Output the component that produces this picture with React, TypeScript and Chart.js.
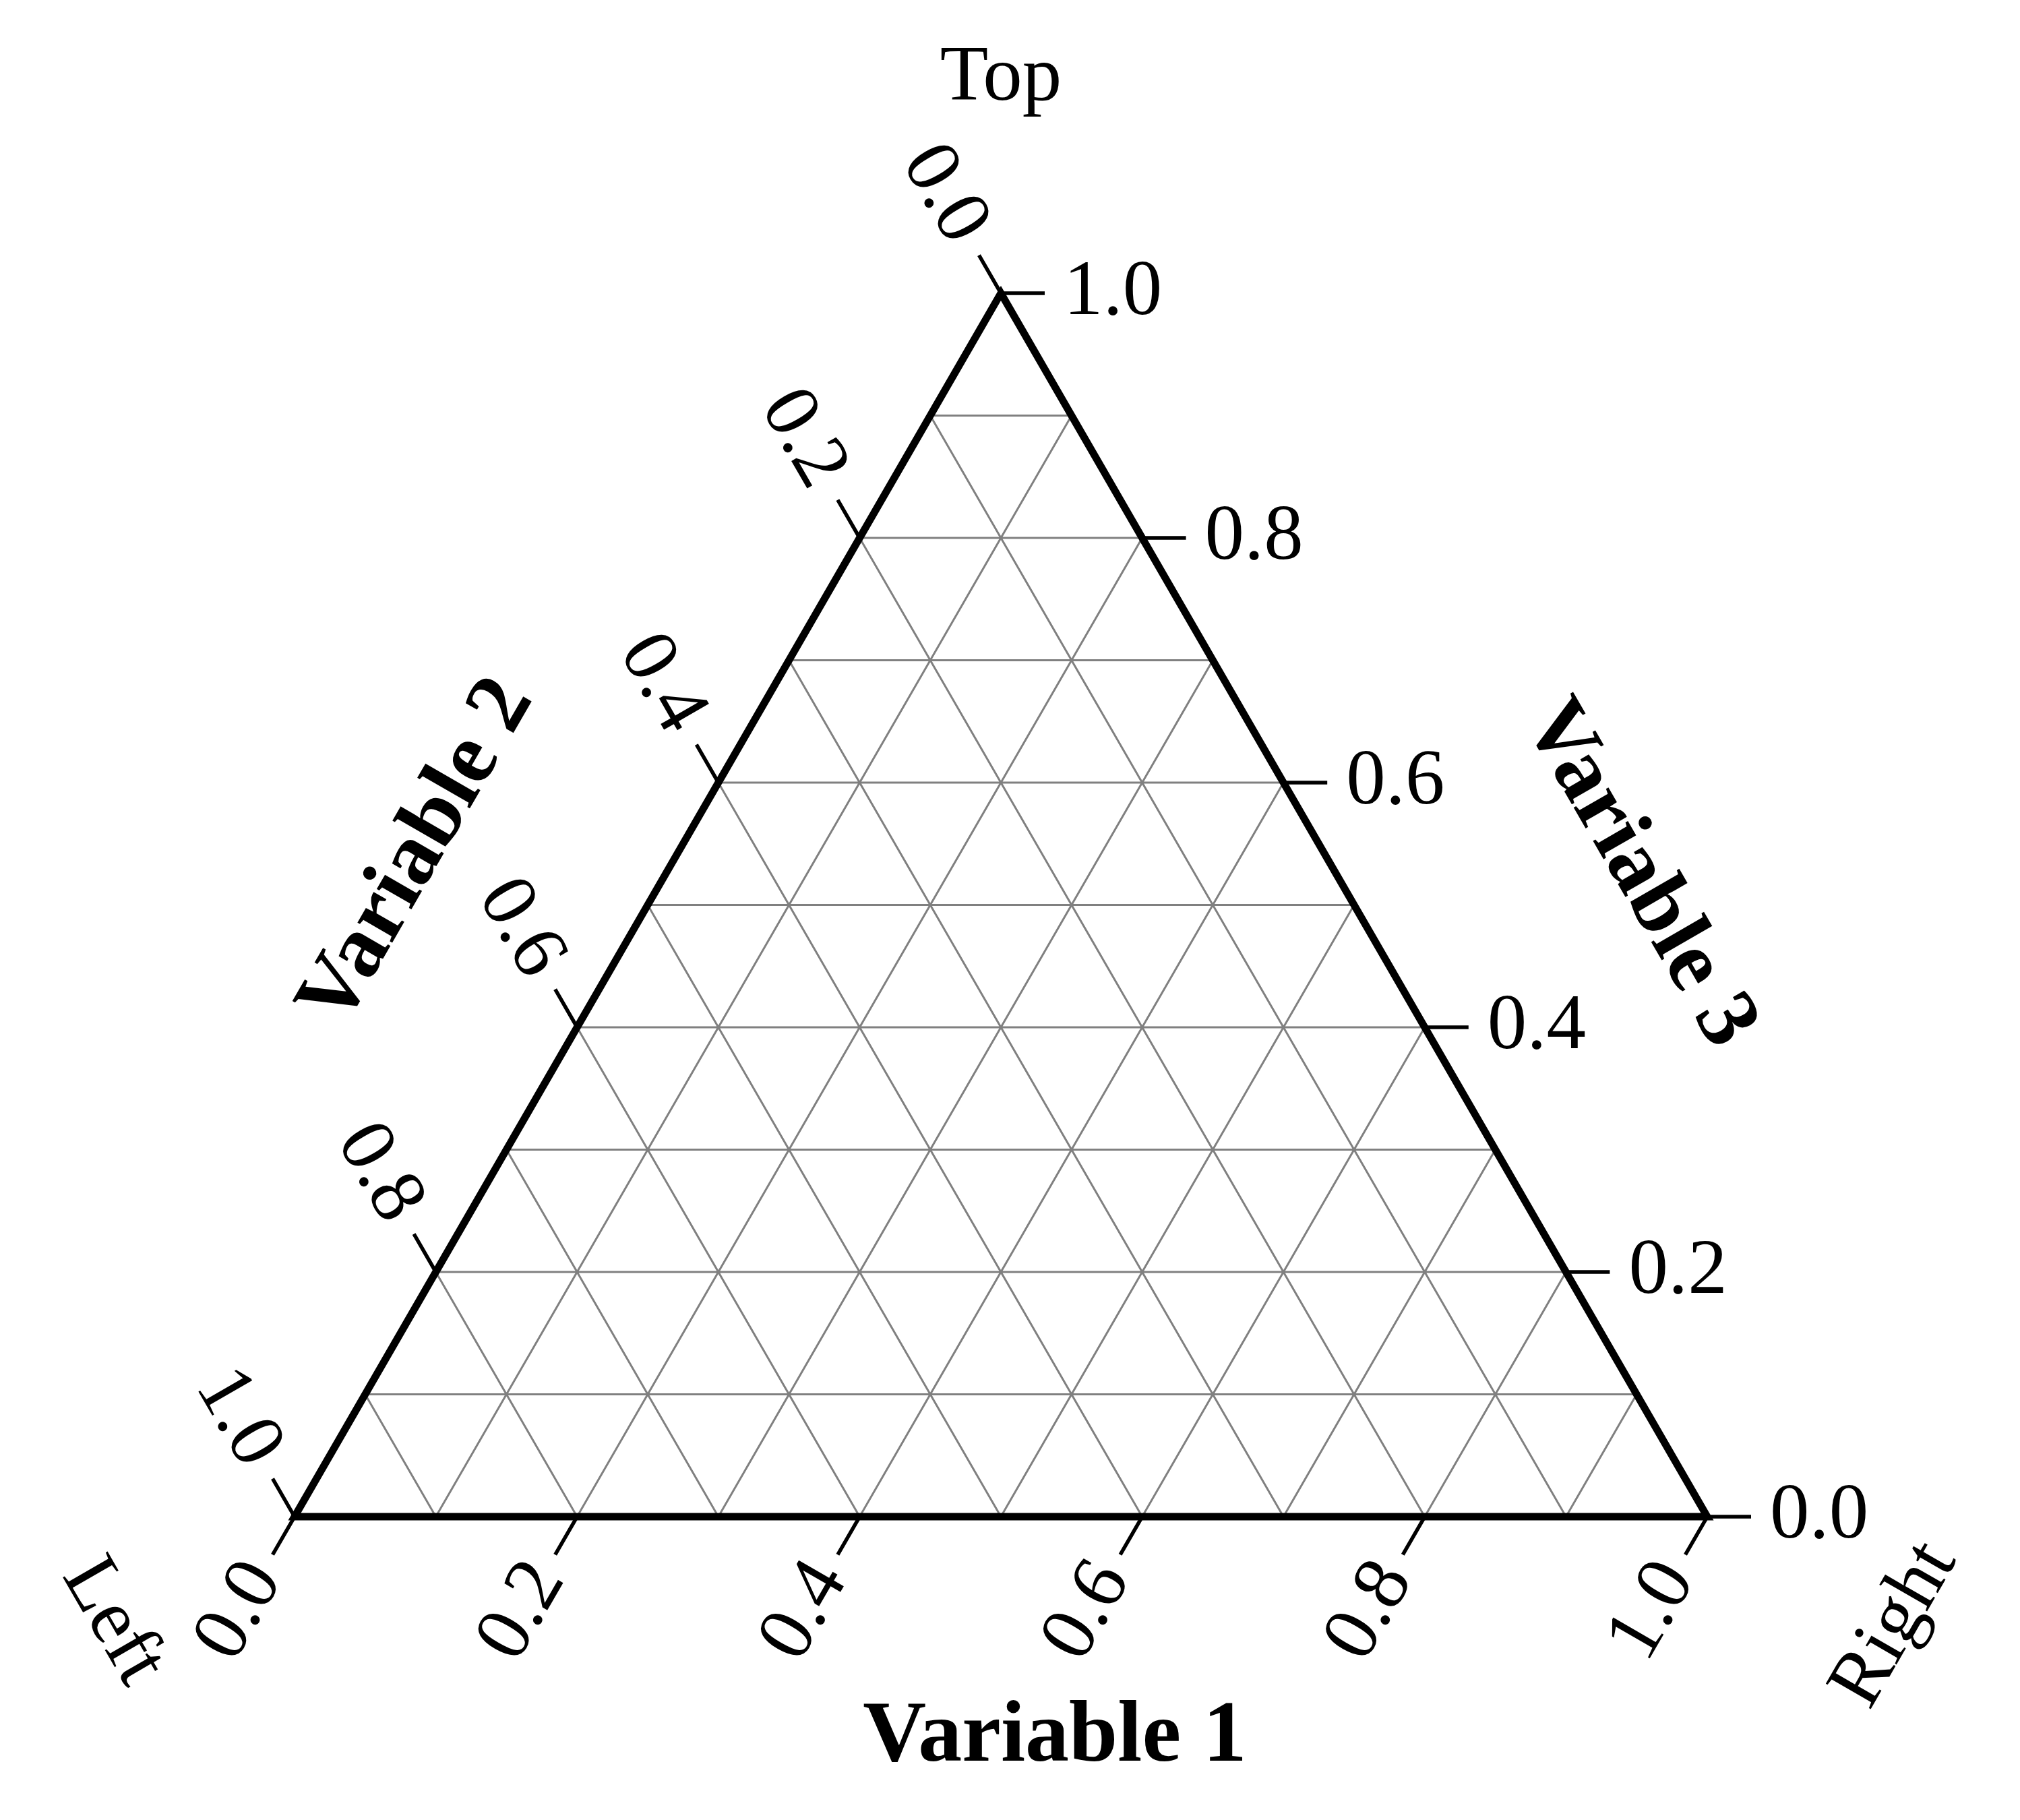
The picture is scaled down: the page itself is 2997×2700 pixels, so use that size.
import React, { useEffect, useRef } from 'react';
import { Chart, registerables } from 'chart.js';

Chart.register(...registerables);

// ---- data ----
const gridValues = [0.1, 0.2, 0.3, 0.4, 0.5, 0.6, 0.7, 0.8, 0.9];
const tickValues = [0.0, 0.2, 0.4, 0.6, 0.8, 1.0];
const tickLabels = ['0.0', '0.2', '0.4', '0.6', '0.8', '1.0'];
const cornerLabels = ['Top', 'Left', 'Right'];
const axisTitles = ['Variable 1', 'Variable 2', 'Variable 3'];

// ---- layout / style ----
const W = 2997;
const H = 2700;
const PAD = { left: 437, right: 464, top: 435, bottom: 450 };
const PLOT_W = W - PAD.left - PAD.right;
const SQ = Math.sqrt(3) / 2;
const TICK_PX = 65;
const LABEL_PAD = 31;
const SERIF = "'Liberation Serif', 'Times New Roman', Times, serif";
const TICK_FONT = `117px ${SERIF}`;
const TITLE_FONT = `bold 130px ${SERIF}`;

// barycentric (v1 bottom, v2 left, v3 right) -> cartesian data coords
const toXY = (v1: number, v2: number, v3: number) => ({ x: v1 + 0.5 * v3, y: SQ * v3 });
const GAP = { x: null as any, y: null as any };

function buildEdges() {
  return [toXY(0, 1, 0), toXY(1, 0, 0), toXY(0, 0, 1), toXY(0, 1, 0), toXY(1, 0, 0)];
}

function buildGrid() {
  const pts: any[] = [];
  gridValues.forEach((v) => {
    pts.push(toXY(v, 1 - v, 0), toXY(v, 0, 1 - v), GAP);
    pts.push(toXY(1 - v, v, 0), toXY(0, v, 1 - v), GAP);
    pts.push(toXY(0, 1 - v, v), toXY(1 - v, 0, v), GAP);
  });
  return pts;
}

function buildTicks() {
  const len = TICK_PX / PLOT_W;
  const pts: any[] = [];
  tickValues.forEach((v) => {
    const a = toXY(v, 1 - v, 0);
    pts.push(a, { x: a.x - 0.5 * len, y: a.y - SQ * len }, GAP);
    const b = toXY(0, v, 1 - v);
    pts.push(b, { x: b.x - 0.5 * len, y: b.y + SQ * len }, GAP);
    const c = toXY(1 - v, 0, v);
    pts.push(c, { x: c.x + len, y: c.y }, GAP);
  });
  return pts;
}

const labelPlugin = {
  id: 'ternaryLabels',
  afterDatasetsDraw(chart: any) {
    const ctx = chart.ctx as CanvasRenderingContext2D;
    const xs = chart.scales.x;
    const ys = chart.scales.y;
    const px = (v1: number, v2: number, v3: number) => {
      const p = toXY(v1, v2, v3);
      return [xs.getPixelForValue(p.x), ys.getPixelForValue(p.y)];
    };
    const text = (s: string, x: number, y: number, rot: number, align: CanvasTextAlign, base: CanvasTextBaseline, font: string) => {
      ctx.save();
      ctx.translate(x, y);
      ctx.rotate(rot);
      ctx.font = font;
      ctx.fillStyle = '#000';
      ctx.textAlign = align;
      ctx.textBaseline = base;
      ctx.fillText(s, 0, 0);
      ctx.restore();
    };
    const d = TICK_PX + LABEL_PAD;
    tickValues.forEach((v, i) => {
      const lab = tickLabels[i];
      let [x, y] = px(v, 1 - v, 0);
      text(lab, x - 0.5 * d + 4, y + SQ * d - 6, -Math.PI / 3, 'right', 'middle', TICK_FONT);
      [x, y] = px(0, v, 1 - v);
      text(lab, x - 0.5 * d, y - SQ * d, Math.PI / 3, 'right', 'middle', TICK_FONT);
      [x, y] = px(1 - v, 0, v);
      text(lab, x + d - 3, y, 0, 'left', 'middle', TICK_FONT);
    });

    let [tx, ty] = px(0, 0, 1);
    text(cornerLabels[0], tx, ty - 287, 0, 'center', 'alphabetic', TICK_FONT);
    let [lx, ly] = px(0, 1, 0);
    text(cornerLabels[1], lx - 0.866 * 312, ly + 0.5 * 312, Math.PI / 3, 'center', 'middle', TICK_FONT);
    let [rx, ry] = px(1, 0, 0);
    text(cornerLabels[2], rx + 0.866 * 322, ry + 0.5 * 322, -Math.PI / 3, 'center', 'middle', TICK_FONT);

    let [bx, by] = px(0.5, 0.5, 0);
    text(axisTitles[0], bx + 80, by + 362, 0, 'center', 'alphabetic', TITLE_FONT);
    let [mx, my] = px(0, 0.5, 0.5);
    text(axisTitles[1], mx - 341, my - 77, -Math.PI / 3, 'center', 'middle', TITLE_FONT);
    let [nx, ny] = px(0.5, 0, 0.5);
    text(axisTitles[2], nx + 422, ny - 45, Math.PI / 3, 'center', 'middle', TITLE_FONT);
  },
};

export default function App() {
  const ref = useRef<HTMLCanvasElement | null>(null);
  useEffect(() => {
    if (!ref.current) return;
    const chart = new Chart(ref.current, {
      type: 'scatter',
      data: {
        datasets: [
          {
            data: buildEdges(),
            showLine: true,
            borderColor: '#000',
            borderWidth: 11,
            borderJoinStyle: 'miter',
            borderCapStyle: 'butt',
            pointRadius: 0,
            clip: false,
            tension: 0,
          } as any,
          {
            data: buildTicks(),
            showLine: true,
            borderColor: '#000',
            borderWidth: 5.5,
            borderCapStyle: 'butt',
            pointRadius: 0,
            spanGaps: false,
            clip: false,
            tension: 0,
          } as any,
          {
            data: buildGrid(),
            showLine: true,
            borderColor: '#808080',
            borderWidth: 3,
            borderCapStyle: 'butt',
            pointRadius: 0,
            spanGaps: false,
            clip: false,
            tension: 0,
          } as any,
        ],
      },
      options: {
        responsive: false,
        animation: false,
        devicePixelRatio: 1,
        events: [],
        layout: { padding: PAD },
        plugins: { legend: { display: false }, tooltip: { enabled: false } },
        scales: {
          x: { type: 'linear', display: false, min: 0, max: 1 },
          y: { type: 'linear', display: false, min: 0, max: SQ },
        },
      },
      plugins: [labelPlugin],
    });
    return () => chart.destroy();
  }, []);
  return (
    <div style={{ position: 'fixed', left: 0, top: 0, width: W, height: H, background: '#fff' }}>
      <canvas ref={ref} width={W} height={H} style={{ width: W, height: H, display: 'block' }} />
    </div>
  );
}
